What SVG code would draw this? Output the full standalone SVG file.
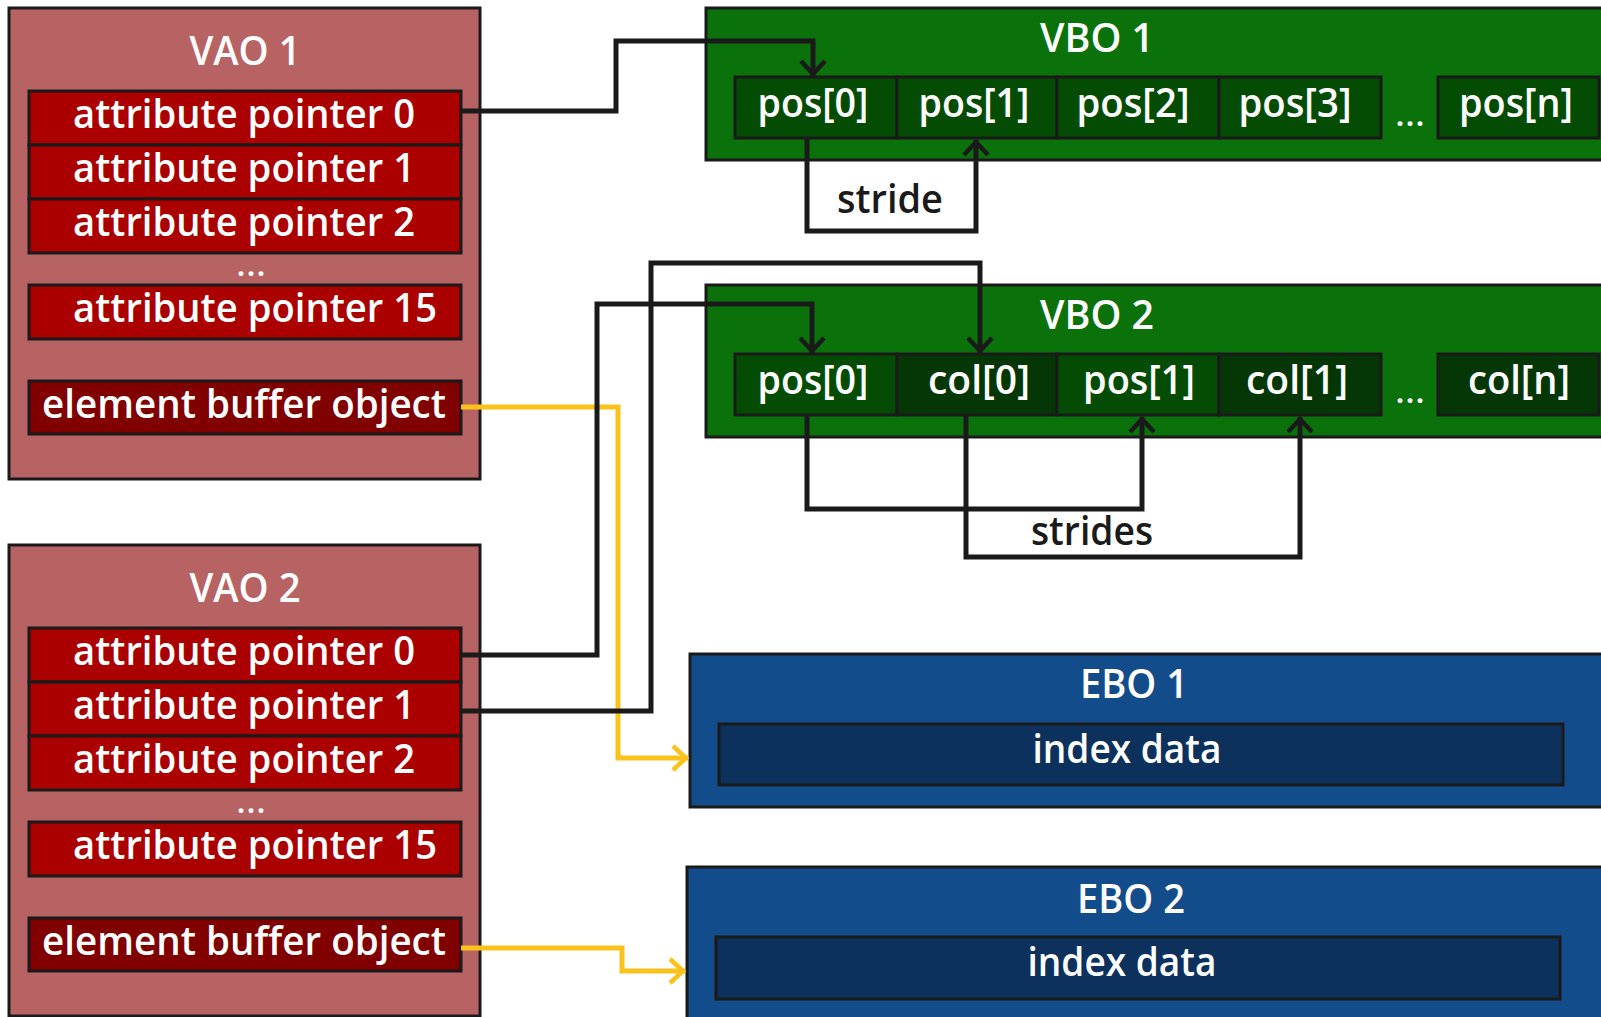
<svg xmlns="http://www.w3.org/2000/svg" width="1601" height="1017" viewBox="0 0 1601 1017">
<style>
  .box { stroke: #1a1a1a; stroke-width: 3; }
  .vao { fill: #b86363; }
  .attr { fill: #aa0000; }
  .eboref { fill: #800000; }
  .vbo { fill: #0b720b; }
  .pos { fill: #044c04; }
  .col { fill: #053605; }
  .ebo { fill: #134c8a; }
  .idx { fill: #0d315d; }
  text { font-family: "Open Sans", "Noto Sans", "Liberation Sans", sans-serif; font-size: 40px; font-weight: 600; fill: #ffffff; }
  .mid { text-anchor: middle; }
  .dark { fill: #1a1a1a; }
  .dots { font-size: 28px; font-weight: 700; letter-spacing: 2px; text-anchor: middle; }
  .conn { fill: none; stroke: #1a1a1a; stroke-width: 5; }
  .yel { fill: none; stroke: #fbc21b; stroke-width: 5; }
</style>
<defs>
  <marker id="arr" markerUnits="userSpaceOnUse" markerWidth="40" markerHeight="40" viewBox="-20 -20 40 40" refX="0" refY="0" orient="auto" overflow="visible">
    <path d="M-15,-12 L-2,0 L-15,12" fill="none" stroke="#1a1a1a" stroke-width="4.5"/>
  </marker>
  <marker id="arrY" markerUnits="userSpaceOnUse" markerWidth="40" markerHeight="40" viewBox="-20 -20 40 40" refX="0" refY="0" orient="auto" overflow="visible">
    <path d="M-15,-12 L-2,0 L-15,12" fill="none" stroke="#fbc21b" stroke-width="4.5"/>
  </marker>
</defs>
<rect width="1601" height="1017" fill="#ffffff"/>

<g id="vao1">
  <rect class="box vao" x="9" y="8" width="471" height="471"/>
  <text class="mid" x="245" y="65" textLength="111" lengthAdjust="spacingAndGlyphs">VAO 1</text>
  <rect class="box attr" x="29" y="91" width="432" height="54"/>
  <text x="73" y="128" textLength="342" lengthAdjust="spacingAndGlyphs">attribute pointer 0</text>
  <rect class="box attr" x="29" y="145" width="432" height="54"/>
  <text x="73" y="182" textLength="342" lengthAdjust="spacingAndGlyphs">attribute pointer 1</text>
  <rect class="box attr" x="29" y="199" width="432" height="54"/>
  <text x="73" y="236" textLength="342" lengthAdjust="spacingAndGlyphs">attribute pointer 2</text>
  <text class="dots" x="252" y="276">...</text>
  <rect class="box attr" x="29" y="285" width="432" height="54"/>
  <text x="73" y="322" textLength="364" lengthAdjust="spacingAndGlyphs">attribute pointer 15</text>
  <rect class="box eboref" x="29" y="381" width="432" height="53"/>
  <text class="mid" x="244" y="418" textLength="404" lengthAdjust="spacingAndGlyphs">element buffer object</text>
</g>

<g id="vao2">
  <rect class="box vao" x="9" y="545" width="471" height="471"/>
  <text class="mid" x="245" y="602" textLength="111" lengthAdjust="spacingAndGlyphs">VAO 2</text>
  <rect class="box attr" x="29" y="628" width="432" height="54"/>
  <text x="73" y="665" textLength="342" lengthAdjust="spacingAndGlyphs">attribute pointer 0</text>
  <rect class="box attr" x="29" y="682" width="432" height="54"/>
  <text x="73" y="719" textLength="342" lengthAdjust="spacingAndGlyphs">attribute pointer 1</text>
  <rect class="box attr" x="29" y="736" width="432" height="54"/>
  <text x="73" y="773" textLength="342" lengthAdjust="spacingAndGlyphs">attribute pointer 2</text>
  <text class="dots" x="252" y="813">...</text>
  <rect class="box attr" x="29" y="822" width="432" height="54"/>
  <text x="73" y="859" textLength="364" lengthAdjust="spacingAndGlyphs">attribute pointer 15</text>
  <rect class="box eboref" x="29" y="918" width="432" height="53"/>
  <text class="mid" x="244" y="955" textLength="404" lengthAdjust="spacingAndGlyphs">element buffer object</text>
</g>

<g id="vbo1">
  <rect class="box vbo" x="706" y="8" width="920" height="152"/>
  <text class="mid" x="1097" y="52" textLength="114" lengthAdjust="spacingAndGlyphs">VBO 1</text>
  <rect class="box pos" x="735" y="77" width="162" height="61"/>
  <text class="mid" x="813" y="117" textLength="111" lengthAdjust="spacingAndGlyphs">pos[0]</text>
  <rect class="box pos" x="897" y="77" width="160" height="61"/>
  <text class="mid" x="974" y="117" textLength="111" lengthAdjust="spacingAndGlyphs">pos[1]</text>
  <rect class="box pos" x="1057" y="77" width="162" height="61"/>
  <text class="mid" x="1133" y="117" textLength="113" lengthAdjust="spacingAndGlyphs">pos[2]</text>
  <rect class="box pos" x="1219" y="77" width="162" height="61"/>
  <text class="mid" x="1295" y="117" textLength="113" lengthAdjust="spacingAndGlyphs">pos[3]</text>
  <text class="dots" x="1411" y="126">...</text>
  <rect class="box pos" x="1438" y="77" width="161" height="61"/>
  <text class="mid" x="1516" y="117" textLength="114" lengthAdjust="spacingAndGlyphs">pos[n]</text>
</g>

<g id="vbo2">
  <rect class="box vbo" x="706" y="285" width="920" height="152"/>
  <text class="mid" x="1097" y="329" textLength="114" lengthAdjust="spacingAndGlyphs">VBO 2</text>
  <rect class="box pos" x="735" y="354" width="162" height="61"/>
  <text class="mid" x="813" y="394" textLength="111" lengthAdjust="spacingAndGlyphs">pos[0]</text>
  <rect class="box col" x="897" y="354" width="160" height="61"/>
  <text class="mid" x="979" y="394" textLength="102" lengthAdjust="spacingAndGlyphs">col[0]</text>
  <rect class="box pos" x="1057" y="354" width="162" height="61"/>
  <text class="mid" x="1139" y="394" textLength="112" lengthAdjust="spacingAndGlyphs">pos[1]</text>
  <rect class="box col" x="1219" y="354" width="162" height="61"/>
  <text class="mid" x="1297" y="394" textLength="102" lengthAdjust="spacingAndGlyphs">col[1]</text>
  <text class="dots" x="1411" y="403">...</text>
  <rect class="box col" x="1438" y="354" width="161" height="61"/>
  <text class="mid" x="1519" y="394" textLength="102" lengthAdjust="spacingAndGlyphs">col[n]</text>
</g>

<g id="ebo1">
  <rect class="box ebo" x="690" y="654" width="930" height="153"/>
  <text class="mid" x="1134" y="698" textLength="108" lengthAdjust="spacingAndGlyphs">EBO 1</text>
  <rect class="box idx" x="719" y="724" width="844" height="61"/>
  <text class="mid" x="1127" y="763" textLength="189" lengthAdjust="spacingAndGlyphs">index data</text>
</g>

<g id="ebo2">
  <rect class="box ebo" x="687" y="867" width="930" height="200"/>
  <text class="mid" x="1131" y="913" textLength="108" lengthAdjust="spacingAndGlyphs">EBO 2</text>
  <rect class="box idx" x="716" y="937" width="844" height="62"/>
  <text class="mid" x="1122" y="976" textLength="189" lengthAdjust="spacingAndGlyphs">index data</text>
</g>

<g id="connectors">
  <path class="yel" d="M461,407 H618 V758 H688" marker-end="url(#arrY)"/>
  <path class="yel" d="M461,948 H622 V971 H685" marker-end="url(#arrY)"/>
  <path class="conn" d="M461,111 H616 V41 H813 V76" marker-end="url(#arr)"/>
  <path class="conn" d="M807,139 V231 H976 V140" marker-end="url(#arr)"/>
  <path class="conn" d="M461,655 H597 V304 H812 V353" marker-end="url(#arr)"/>
  <path class="conn" d="M461,711 H651 V263 H980 V353" marker-end="url(#arr)"/>
  <path class="conn" d="M807,416 V509 H1142 V417" marker-end="url(#arr)"/>
  <path class="conn" d="M966,416 V557 H1300 V417" marker-end="url(#arr)"/>
  <text class="dark mid" x="890" y="213" textLength="106" lengthAdjust="spacingAndGlyphs">stride</text>
  <text class="dark mid" x="1092" y="545" textLength="122" lengthAdjust="spacingAndGlyphs">strides</text>
</g>
</svg>
